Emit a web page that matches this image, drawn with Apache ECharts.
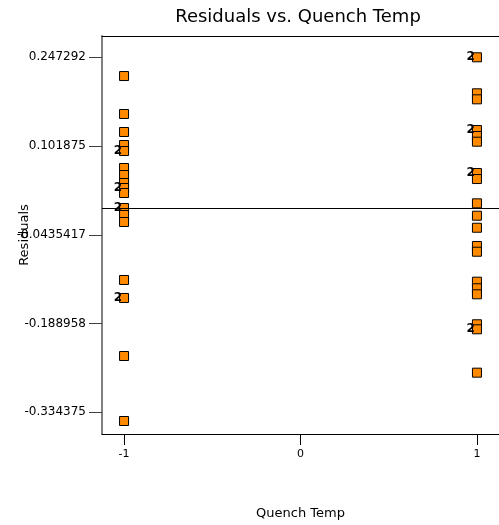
<!DOCTYPE html>
<html>
<head>
<meta charset="utf-8">
<script src="https://cdn.jsdelivr.net/npm/echarts@6/dist/echarts.min.js"></script>
<style>
  html, body { margin: 0; padding: 0; background: #fff; }
  #chart { width: 499px; height: 525px; }
</style>
</head>
<body>
<div id="chart"></div>
<script>
// x 水平: -1 / 1
var lowResiduals = [0.2166, 0.1544, 0.1249, 0.1036, 0.0937, 0.0659, 0.0544, 0.0413, 0.0331, 0.0249,
    0.0003, -0.0111, -0.0226, -0.1176, -0.1471, -0.2422, -0.3487];
var lowCounts = [1, 1, 1, 1, 2, 1, 1, 1, 2, 1, 2, 1, 1, 1, 2, 1, 1];
var highResiduals = [0.2473, 0.1883, 0.1784, 0.1281, 0.1183, 0.1090, 0.0577, 0.0478, 0.0080, -0.0123,
    -0.0320, -0.0619, -0.0713, -0.1204, -0.1312, -0.1411, -0.1902, -0.1984, -0.2695];
var highCounts = [2, 1, 1, 2, 1, 1, 2, 1, 1, 1, 1, 1, 1, 1, 1, 1, 1, 2, 1];
var xTicks = [-1, 0, 1];
var yTicks = [-0.334375, -0.188958, -0.0435417, 0.101875, 0.247292];

var font = 'DejaVu Sans, Arial, sans-serif';

//组装散点数据
function buildPoints() {
    var pts = [];
    for (var i = 0; i < lowResiduals.length; i++) {
        pts.push([-1, lowResiduals[i], lowCounts[i]]);
    }
    for (var j = 0; j < highResiduals.length; j++) {
        pts.push([1, highResiduals[j], highCounts[j]]);
    }
    return pts;
}

var myChart = echarts.init(document.getElementById('chart'));
var option = {
    animation: false,
    backgroundColor: '#fff',
    title: {
        text: 'Residuals vs. Quench Temp',
        left: 293,
        top: 3,
        textAlign: 'center',
        textStyle: { fontFamily: font, fontSize: 18, fontWeight: 'normal', color: '#000' }
    },
    grid: { left: 102, top: 36, right: 0, bottom: 91, outerBoundsMode: 'none', containLabel: false },
    xAxis: [{
        type: 'value',
        min: -1.125,
        max: 1.125,
        name: 'Quench Temp',
        nameLocation: 'middle',
        nameGap: 73,
        nameMoveOverlap: false,
        nameTextStyle: { fontFamily: font, fontSize: 13, color: '#000' },
        axisLine: { show: true, onZero: false, lineStyle: { color: '#000', width: 1 } },
        axisTick: { show: true, length: 11, lineStyle: { color: '#000' }, customValues: xTicks },
        axisLabel: { fontFamily: font, fontSize: 11, color: '#000', margin: 15, customValues: xTicks },
        splitLine: { show: false }
    }, {
        type: 'value',
        position: 'top',
        min: -1.125,
        max: 1.125,
        axisLine: { show: true, onZero: false, lineStyle: { color: '#000', width: 1 } },
        axisTick: { show: false },
        axisLabel: { show: false },
        splitLine: { show: false }
    }],
    yAxis: {
        type: 'value',
        min: -0.3700,
        max: 0.2822,
        name: 'Residuals',
        nameLocation: 'middle',
        nameGap: 71,
        nameMoveOverlap: false,
        nameTextStyle: { fontFamily: font, fontSize: 13, color: '#000' },
        axisLine: { show: true, onZero: false, lineStyle: { color: '#808080', width: 2 } },
        axisTick: { show: true, length: 13, lineStyle: { color: '#404040' }, customValues: yTicks },
        axisLabel: {
            fontFamily: font, fontSize: 12, color: '#000', margin: 16,
            customValues: yTicks,
            formatter: function (v) { return String(v); }
        },
        splitLine: { show: false }
    },
    series: [{
        type: 'scatter',
        symbol: 'rect',
        symbolSize: 9,
        data: buildPoints(),
        itemStyle: { color: '#ff8a00', borderColor: '#000', borderWidth: 1, opacity: 1 },
        label: {
            show: true,
            position: 'left',
            distance: -3,
            fontFamily: font,
            fontSize: 12,
            fontWeight: 'bold',
            color: '#000',
            formatter: function (p) { return p.value[2] > 1 ? String(p.value[2]) : ''; }
        },
        markLine: {
            silent: true,
            symbol: 'none',
            label: { show: false },
            lineStyle: { color: '#000', width: 1, type: 'solid' },
            data: [{ yAxis: 0 }]
        }
    }]
};
myChart.setOption(option);
</script>
</body>
</html>
